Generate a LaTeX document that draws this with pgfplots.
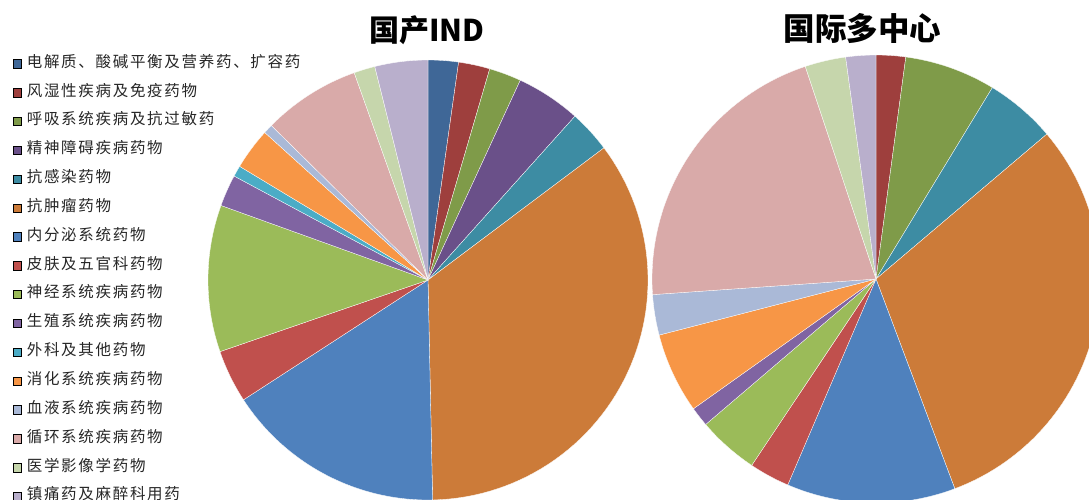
\documentclass[border=0pt]{standalone}
\usepackage{fontspec}
\usepackage{pgfplots}
\pgfplotsset{compat=1.18}
\newfontfamily\cjk{Noto Sans CJK SC}
\newfontfamily\cjklg[LetterSpace=11]{Noto Sans CJK SC}
\definecolor{c1}{HTML}{3F6797}
\definecolor{c2}{HTML}{9E3F3D}
\definecolor{c3}{HTML}{7F9B49}
\definecolor{c4}{HTML}{6A5089}
\definecolor{c5}{HTML}{3D8CA3}
\definecolor{c6}{HTML}{CC7B39}
\definecolor{c7}{HTML}{4F81BD}
\definecolor{c8}{HTML}{C0504D}
\definecolor{c9}{HTML}{9BBB59}
\definecolor{c10}{HTML}{8064A2}
\definecolor{c11}{HTML}{4BACC6}
\definecolor{c12}{HTML}{F79646}
\definecolor{c13}{HTML}{AAB9D7}
\definecolor{c14}{HTML}{D9AAA9}
\definecolor{c15}{HTML}{C6D6AC}
\definecolor{c16}{HTML}{B9AFCC}
% slice: colour, centre x, centre y, radius, start angle, end angle (degrees clockwise from 12 o'clock)
\newcommand{\slice}[6]{\addplot[fill=#1, draw=white, line width=0.3pt, domain=#5:#6, samples=60, forget plot] ({#2+#4*sin(x)},{#3+#4*cos(x)}) -- (axis cs:#2,#3) -- cycle;}
\begin{document}
\begin{tikzpicture}
\useasboundingbox (0pt,0pt) rectangle (1089pt,499pt);
\begin{axis}[
  at={(0pt,0pt)}, anchor=south west,
  scale only axis, width=1089pt, height=499pt,
  xmin=0, xmax=1089, ymin=0, ymax=499,
  axis lines=none, clip=true,
  legend image code/.code={\fill[#1] (0pt,-4.2pt) rectangle (8.7pt,4.2pt);},
  legend cell align=left,
  legend style={at={(0.01166,0.8874)}, anchor=north west, draw=none, fill=none,
    inner sep=0pt, outer sep=0pt, row sep=13.85pt, column sep=5pt,
    font=\cjklg\fontsize{15.5}{15.5}\selectfont, text=black!85,
    nodes={inner sep=0pt, text height=11pt, text depth=4pt}},
]
% 国产IND
\slice{c1}{428}{219}{220}{0}{8.0}
\slice{c2}{428}{219}{220}{8.0}{16.3}
\slice{c3}{428}{219}{220}{16.3}{24.8}
\slice{c4}{428}{219}{220}{24.8}{41.9}
\slice{c5}{428}{219}{220}{41.9}{53.1}
\slice{c6}{428}{219}{220}{53.1}{178.8}
\slice{c7}{428}{219}{220}{178.8}{237.0}
\slice{c8}{428}{219}{220}{237.0}{251.0}
\slice{c9}{428}{219}{220}{251.0}{289.8}
\slice{c10}{428}{219}{220}{289.8}{298.2}
\slice{c11}{428}{219}{220}{298.2}{301.1}
\slice{c12}{428}{219}{220}{301.1}{312.1}
\slice{c13}{428}{219}{220}{312.1}{314.6}
\slice{c14}{428}{219}{220}{314.6}{340.4}
\slice{c15}{428}{219}{220}{340.4}{346.0}
\slice{c16}{428}{219}{220}{346.0}{360}
% 国际多中心
\slice{c2}{876}{220}{224}{0}{7.65}
\slice{c3}{876}{220}{224}{7.65}{31.3}
\slice{c5}{876}{220}{224}{31.3}{49.7}
\slice{c6}{876}{220}{224}{49.7}{159.4}
\slice{c7}{876}{220}{224}{159.4}{203.2}
\slice{c8}{876}{220}{224}{203.2}{213.7}
\slice{c9}{876}{220}{224}{213.7}{229.5}
\slice{c10}{876}{220}{224}{229.5}{234.6}
\slice{c12}{876}{220}{224}{234.6}{255.5}
\slice{c13}{876}{220}{224}{255.5}{266.0}
\slice{c14}{876}{220}{224}{266.0}{341.6}
\slice{c15}{876}{220}{224}{341.6}{352.2}
\slice{c16}{876}{220}{224}{352.2}{360}
\addlegendimage{fill=c1}\addlegendentry{电解质、酸碱平衡及营养药、扩容药}
\addlegendimage{fill=c2}\addlegendentry{风湿性疾病及免疫药物}
\addlegendimage{fill=c3}\addlegendentry{呼吸系统疾病及抗过敏药}
\addlegendimage{fill=c4}\addlegendentry{精神障碍疾病药物}
\addlegendimage{fill=c5}\addlegendentry{抗感染药物}
\addlegendimage{fill=c6}\addlegendentry{抗肿瘤药物}
\addlegendimage{fill=c7}\addlegendentry{内分泌系统药物}
\addlegendimage{fill=c8}\addlegendentry{皮肤及五官科药物}
\addlegendimage{fill=c9}\addlegendentry{神经系统疾病药物}
\addlegendimage{fill=c10}\addlegendentry{生殖系统疾病药物}
\addlegendimage{fill=c11}\addlegendentry{外科及其他药物}
\addlegendimage{fill=c12}\addlegendentry{消化系统疾病药物}
\addlegendimage{fill=c13}\addlegendentry{血液系统疾病药物}
\addlegendimage{fill=c14}\addlegendentry{循环系统疾病药物}
\addlegendimage{fill=c15}\addlegendentry{医学影像学药物}
\addlegendimage{fill=c16}\addlegendentry{镇痛药及麻醉科用药}
\node[font=\cjk\bfseries\fontsize{30}{30}\selectfont, inner sep=0pt] at (axis cs:426.7,469) {国产IND};
\node[font=\cjk\bfseries\fontsize{31.5}{31.5}\selectfont, inner sep=0pt] at (axis cs:862.5,470.6) {国际多中心};
\end{axis}
\end{tikzpicture}
\end{document}
